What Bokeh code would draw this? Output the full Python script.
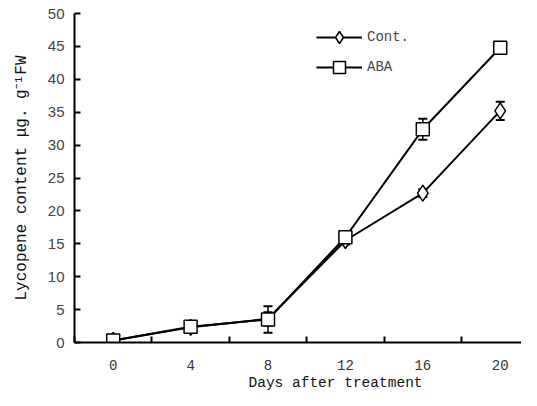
from bokeh.plotting import figure
from bokeh.models import (ColumnDataSource, Whisker, FixedTicker, Legend, LegendItem,
                          Title, Range1d, TeeHead)
from bokeh.embed import file_html
from bokeh.resources import INLINE

days = [0, 4, 8, 12, 16, 20]
cont = [0.3, 2.3, 3.6, 15.5, 22.7, 35.2]
cont_err = [0.2, 0.6, 1.0, 0.6, 0.6, 1.4]
aba = [0.3, 2.4, 3.5, 16.0, 32.4, 44.8]
aba_err = [0.2, 0.6, 2.0, 0.8, 1.6, 0.6]
x_ticks = [0, 4, 8, 12, 16, 20]
y_ticks = [0, 5, 10, 15, 20, 25, 30, 35, 40, 45, 50]

p = figure(width=521, height=390, output_backend="svg", toolbar_location=None,
           x_range=Range1d(-2, 21.1), y_range=Range1d(0, 50),
           min_border_left=74, min_border_right=0, min_border_top=13, min_border_bottom=0)
p.outline_line_color = None
p.xgrid.visible = False
p.ygrid.visible = False

mono = "Liberation Mono"

# x axis: labels at 0,4,..; ticks between them
p.xaxis.ticker = FixedTicker(ticks=x_ticks, minor_ticks=[-2, 2, 6, 10, 14, 18])
p.xaxis.major_tick_in = 0
p.xaxis.major_tick_out = 0
p.xaxis.minor_tick_in = 6
p.xaxis.minor_tick_out = 0
p.xaxis.minor_tick_line_color = "black"
p.xaxis.minor_tick_line_width = 2
p.xaxis.axis_line_width = 2
p.xaxis.axis_line_color = "black"
p.xaxis.major_label_text_font = mono
p.xaxis.major_label_text_font_size = "14px"
p.xaxis.major_label_text_color = "#333"
p.xaxis.major_label_standoff = 17

p.yaxis.ticker = FixedTicker(ticks=y_ticks)
p.yaxis.major_tick_in = 6
p.yaxis.major_tick_out = 0
p.yaxis.minor_tick_line_color = None
p.yaxis.major_tick_line_width = 2
p.yaxis.axis_line_width = 2
p.yaxis.axis_line_color = "black"
p.yaxis.major_label_text_font = "Liberation Sans"
p.yaxis.major_label_text_font_size = "15px"
p.yaxis.major_label_text_color = "#444"
p.yaxis.major_label_standoff = 10
p.yaxis.axis_label = "Lycopene content μg. g⁻¹FW"
p.yaxis.axis_label_text_font = mono
p.yaxis.axis_label_text_font_size = "16px"
p.yaxis.axis_label_text_font_style = "normal"
p.yaxis.axis_label_text_color = "#111"
p.yaxis.axis_label_standoff = 14

xt = Title(text="Days after treatment", align="left", offset=174, standoff=0,
           text_font=mono, text_font_size="14.5px", text_font_style="normal",
           text_color="#111")
p.add_layout(xt, "below")

src_c = ColumnDataSource(dict(x=days, y=cont, lo=[v - e for v, e in zip(cont, cont_err)],
                              hi=[v + e for v, e in zip(cont, cont_err)]))
src_a = ColumnDataSource(dict(x=days, y=aba, lo=[v - e for v, e in zip(aba, aba_err)],
                              hi=[v + e for v, e in zip(aba, aba_err)]))

for src in (src_c, src_a):
    w = Whisker(source=src, base="x", upper="hi", lower="lo", line_color="black", line_width=1.5,
                upper_head=TeeHead(size=9, line_color="black", line_width=2),
                lower_head=TeeHead(size=9, line_color="black", line_width=2))
    p.add_layout(w)

lc = p.line("x", "y", source=src_c, line_color="black", line_width=2)
la = p.line("x", "y", source=src_a, line_color="black", line_width=2)
mc = p.scatter("x", "y", source=src_c, marker="diamond", size=16, fill_color="white",
               line_color="black", line_width=1.5)
ma = p.scatter("x", "y", source=src_a, marker="square", size=13, fill_color="white",
               line_color="black", line_width=1.5)

legend = Legend(items=[LegendItem(label="Cont.", renderers=[lc, mc]),
                       LegendItem(label="ABA", renderers=[la, ma])],
                location=(242, 260), glyph_width=46, glyph_height=30, spacing=0,
                padding=0, margin=0, label_standoff=5, border_line_alpha=0,
                background_fill_alpha=0, label_text_font=mono, label_text_font_size="14px",
                label_height=30)
p.add_layout(legend)

open("out.html", "w").write(file_html(p, INLINE))
